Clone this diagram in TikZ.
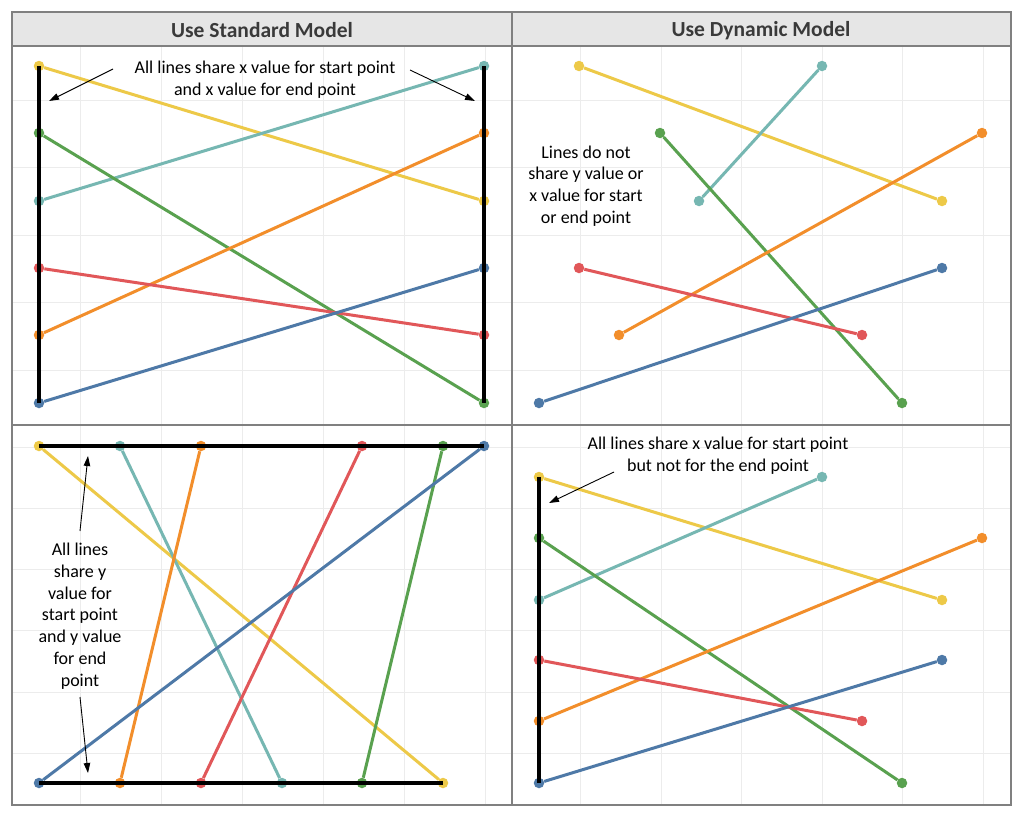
\documentclass[tikz,border=0pt]{standalone}
\usepackage{fontspec}
\setmainfont{Carlito}
\usetikzlibrary{arrows.meta}
\definecolor{cyel}{HTML}{EDC948}
\definecolor{cteal}{HTML}{76B7B2}
\definecolor{cgreen}{HTML}{59A14F}
\definecolor{corange}{HTML}{F28E2B}
\definecolor{cred}{HTML}{E15759}
\definecolor{cblue}{HTML}{4E79A7}
\definecolor{headfill}{HTML}{E6E6E6}
\definecolor{headtext}{HTML}{3A3A3A}
\definecolor{rulegray}{HTML}{808080}
\definecolor{gridgray}{HTML}{ECECEC}
\tikzset{
pt/.style={circle, inner sep=0pt, minimum size=10.5pt, fill=#1}, % end point of a line
seg/.style={line width=3pt, #1}, % coloured line between two points
guide/.style={line width=4.5pt, black}, % black line over shared values
gridline/.style={line width=1pt, gridgray},
frame/.style={line width=1.3pt, rulegray},
head/.style={font=\bfseries\fontsize{21.5}{25}\selectfont, text=headtext},
note/.style={align=center, font=\fontsize{18}{21.8}\selectfont, text=black},
pointer/.style={-{Triangle[length=10pt,width=6.5pt]}, line width=0.9pt},
}
\begin{document}
\begin{tikzpicture}[x=1pt, y=-1pt]
\useasboundingbox (0,0) rectangle (1024,819);
\fill[white] (0,0) rectangle (1024,819);
\fill[headfill] (12,12) rectangle (1011,46);

% grid
\foreach \x in {80,161,242,323,404,485,580,661,741,822,902,983}
  \draw[gridline] (\x,46) -- (\x,805);
\foreach \y in {100,167,235,302,370,447,508,569,630,692,753}
  \draw[gridline] (12,\y) -- (1011,\y);

% table rules
\draw[frame] (12,12) rectangle (1011,805);
\draw[frame] (12,46) -- (1011,46);
\draw[frame] (12,425) -- (1011,425);
\draw[frame] (512,12) -- (512,805);
\node[head] (hstd) at (262,30.5) {Use Standard Model};
\node[head] (hdyn) at (761,30.5) {Use Dynamic Model};

% top left
\node[pt=cyel] (ay1) at (39,66) {};
\node[pt=cyel] (ay2) at (484,201) {};
\node[pt=cteal] (at1) at (39,201) {};
\node[pt=cteal] (at2) at (484,66) {};
\node[pt=cgreen] (ag1) at (39,133) {};
\node[pt=cgreen] (ag2) at (484,403) {};
\node[pt=corange] (ao1) at (39,335) {};
\node[pt=corange] (ao2) at (484,133) {};
\node[pt=cred] (ar1) at (39,268) {};
\node[pt=cred] (ar2) at (484,335) {};
\node[pt=cblue] (ab1) at (39,403) {};
\node[pt=cblue] (ab2) at (484,268) {};
\draw[seg=cyel] (ay1) -- (ay2);
\draw[seg=cteal] (at1) -- (at2);
\draw[seg=cgreen] (ag1) -- (ag2);
\draw[seg=corange] (ao1) -- (ao2);
\draw[seg=cred] (ar1) -- (ar2);
\draw[seg=cblue] (ab1) -- (ab2);
\draw[guide] (ay1.center) -- (ab1.center);
\draw[guide] (at2.center) -- (ag2.center);
\node[note] (anote) at (265,80) {All lines share x value for start point\\and x value for end point};
\coordinate (al0) at (113,69);
\coordinate (al1) at (49,101);
\coordinate (ar0) at (410,70);
\coordinate (ar1x) at (475,101);
\draw[pointer] (al0) -- (al1);
\draw[pointer] (ar0) -- (ar1x);

% top right
\node[pt=cyel] (by1) at (579,66) {};
\node[pt=cyel] (by2) at (942,201) {};
\node[pt=cteal] (bt1) at (699,201) {};
\node[pt=cteal] (bt2) at (822,66) {};
\node[pt=cgreen] (bg1) at (660,133) {};
\node[pt=cgreen] (bg2) at (902,403) {};
\node[pt=corange] (bo1) at (619,335) {};
\node[pt=corange] (bo2) at (982,133) {};
\node[pt=cred] (br1) at (579,268) {};
\node[pt=cred] (br2) at (862,335) {};
\node[pt=cblue] (bb1) at (539,403) {};
\node[pt=cblue] (bb2) at (942,268) {};
\draw[seg=cyel] (by1) -- (by2);
\draw[seg=cteal] (bt1) -- (bt2);
\draw[seg=cgreen] (bg1) -- (bg2);
\draw[seg=corange] (bo1) -- (bo2);
\draw[seg=cred] (br1) -- (br2);
\draw[seg=cblue] (bb1) -- (bb2);
\node[note] (bnote) at (586,186) {Lines do not\\share y value or\\x value for start\\or end point};

% bottom left
\node[pt=cyel] (cy1) at (39,446) {};
\node[pt=cyel] (cy2) at (443,783) {};
\node[pt=cteal] (ct1) at (120,446) {};
\node[pt=cteal] (ct2) at (282,783) {};
\node[pt=corange] (co1) at (201,446) {};
\node[pt=corange] (co2) at (120,783) {};
\node[pt=cred] (cr1) at (362,446) {};
\node[pt=cred] (cr2) at (201,783) {};
\node[pt=cgreen] (cg1) at (443,446) {};
\node[pt=cgreen] (cg2) at (362,783) {};
\node[pt=cblue] (cb1) at (484,446) {};
\node[pt=cblue] (cb2) at (39,783) {};
\draw[seg=cyel] (cy1) -- (cy2);
\draw[seg=cteal] (ct1) -- (ct2);
\draw[seg=corange] (co1) -- (co2);
\draw[seg=cred] (cr1) -- (cr2);
\draw[seg=cgreen] (cg1) -- (cg2);
\draw[seg=cblue] (cb1) -- (cb2);
\draw[guide] (cy1.center) -- (cb1.center);
\draw[guide] (cb2.center) -- (cy2.center);
\node[note] (cnote) at (80,616) {All lines\\share y\\value for\\start point\\and y value\\for end\\point};
\coordinate (cu0) at (80,531);
\coordinate (cu1) at (88,456);
\coordinate (cd0) at (80,697);
\coordinate (cd1) at (88,773);
\draw[pointer] (cu0) -- (cu1);
\draw[pointer] (cd0) -- (cd1);

% bottom right
\node[pt=cyel] (dy1) at (539,477) {};
\node[pt=cyel] (dy2) at (942,600) {};
\node[pt=cteal] (dt1) at (539,600) {};
\node[pt=cteal] (dt2) at (822,477) {};
\node[pt=cgreen] (dg1) at (539,538) {};
\node[pt=cgreen] (dg2) at (902,783) {};
\node[pt=corange] (do1) at (539,721) {};
\node[pt=corange] (do2) at (982,538) {};
\node[pt=cred] (dr1) at (539,660) {};
\node[pt=cred] (dr2) at (862,721) {};
\node[pt=cblue] (db1) at (539,783) {};
\node[pt=cblue] (db2) at (942,660) {};
\draw[seg=cyel] (dy1) -- (dy2);
\draw[seg=cteal] (dt1) -- (dt2);
\draw[seg=cgreen] (dg1) -- (dg2);
\draw[seg=corange] (do1) -- (do2);
\draw[seg=cred] (dr1) -- (dr2);
\draw[seg=cblue] (db1) -- (db2);
\draw[guide] (dy1.center) -- (db1.center);
\node[note] (dnote) at (718,456) {All lines share x value for start point\\but not for the end point};
\coordinate (dl0) at (614,472);
\coordinate (dl1) at (549,503);
\draw[pointer] (dl0) -- (dl1);
\end{tikzpicture}
\end{document}
